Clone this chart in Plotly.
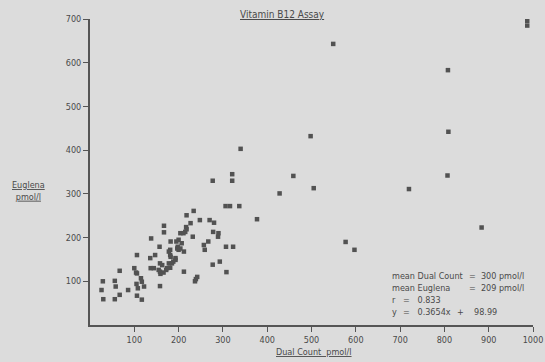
import plotly.graph_objects as go

# Dual Count (pmol/l) vs Euglena (pmol/l)
dual_count = [29, 26, 30, 56, 58, 56, 67, 67, 86, 100, 106, 106, 105, 108, 106, 117, 115, 117, 122,
              138, 136, 147, 137, 144, 157, 158, 158, 159, 158, 167, 167, 166, 172, 182, 181, 181,
              178, 181, 188, 193, 195, 198, 200, 204, 207, 204, 211, 215, 218, 218, 217, 212, 227,
              234, 232, 239, 242, 237, 248, 257, 259, 267, 270, 280, 278, 277, 290, 289, 293, 307,
              308, 306, 316, 337, 323, 377, 428, 277, 321, 321, 340, 459, 498, 505, 549, 577, 597,
              720, 808, 809, 807, 884, 987, 987,
              197, 212, 178, 182, 163, 174, 155, 200, 185, 193, 104]
euglena = [100, 80, 59, 101, 88, 59, 69, 124, 80, 130, 160, 118, 94, 84, 67, 58, 107, 99, 88,
           198, 153, 160, 130, 130, 179, 141, 122, 117, 89, 227, 212, 120, 126, 191, 172, 160,
           141, 131, 145, 153, 191, 179, 172, 175, 187, 210, 210, 213, 219, 251, 224, 122, 233,
           261, 202, 105, 110, 100, 240, 183, 172, 191, 240, 234, 213, 138, 210, 202, 145, 179,
           121, 272, 272, 272, 179, 242, 301, 330, 345, 330, 403, 341, 432, 313, 643, 190, 172,
           311, 583, 442, 342, 223, 696, 685,
           175, 168, 168, 156, 137, 130, 126, 195, 141, 149, 120]

x_ticks = [100, 200, 300, 400, 500, 600, 700, 800, 900, 1000]
y_ticks = [100, 200, 300, 400, 500, 600, 700]

title_text = "Vitamin B12 Assay"
x_title = "Dual Count  pmol/l"
stats_labels = ["mean Dual Count", "mean Euglena", "r", "y"]
stats_values = ["300 pmol/l", "209 pmol/l", "0.833", "0.3654x"]

FONT = "Liberation Sans Narrow, DejaVu Sans Condensed, Liberation Sans, sans-serif"
INK = "#4a4a4a"
BG = "#dcdcdc"

fig = go.Figure()
fig.add_trace(go.Scatter(
    x=dual_count, y=euglena, mode="markers",
    marker=dict(color="#525252", size=4.5, symbol="square", line=dict(width=0)),
    hoverinfo="x+y", showlegend=False,
))

ann = []
ann.append(dict(xref="paper", yref="paper", x=(282 - 90) / 443, y=(325 - 14) / 306,
                text="<u>" + title_text + "</u>", showarrow=False,
                font=dict(size=10, color=INK, family=FONT), xanchor="center", yanchor="middle"))
ann.append(dict(xref="paper", yref="paper", x=(314 - 90) / 443, y=(325 - 352) / 306,
                text="<u>" + x_title + "</u>", showarrow=False,
                font=dict(size=9, color=INK, family=FONT), xanchor="center", yanchor="middle"))
ann.append(dict(xref="paper", yref="paper", x=(28 - 90) / 443, y=(325 - 191) / 306,
                text="<u>Euglena</u><br><u>pmol/l</u>", showarrow=False,
                font=dict(size=9, color=INK, family=FONT), xanchor="center", yanchor="middle"))

rows_y = [113, 85, 57, 30]
sfont = dict(size=9, color=INK, family=FONT)
for lab, yy in zip(stats_labels, rows_y):
    ann.append(dict(x=678, y=yy, text=lab, showarrow=False, xanchor="left", font=sfont))
ann.append(dict(x=852, y=rows_y[0], text="=  " + stats_values[0], showarrow=False, xanchor="left", font=sfont))
ann.append(dict(x=852, y=rows_y[1], text="=  " + stats_values[1], showarrow=False, xanchor="left", font=sfont))
ann.append(dict(x=701, y=rows_y[2], text="=   " + stats_values[2], showarrow=False, xanchor="left", font=sfont))
ann.append(dict(x=701, y=rows_y[3], text="=   " + stats_values[3], showarrow=False, xanchor="left", font=sfont))
ann.append(dict(x=825, y=rows_y[3], text="+    98.99", showarrow=False, xanchor="left", font=sfont))

fig.update_layout(
    width=545, height=362,
    margin=dict(l=90, r=12, t=19, b=37, autoexpand=False),
    paper_bgcolor=BG, plot_bgcolor=BG,
    font=dict(family=FONT, color=INK, size=9),
    annotations=ann,
    xaxis=dict(range=[0, 1000], tickvals=x_ticks, showgrid=False, zeroline=False,
               showline=True, linecolor="#555555", linewidth=2, automargin=False,
               ticks="outside", ticklen=5, tickcolor="#555555", tickwidth=1,
               tickfont=dict(size=9, color=INK, family=FONT)),
    yaxis=dict(range=[0, 700], tickvals=y_ticks, showgrid=False, zeroline=False,
               showline=True, linecolor="#555555", linewidth=2, automargin=False,
               ticks="outside", ticklen=5, tickcolor="#555555", tickwidth=1,
               tickfont=dict(size=9, color=INK, family=FONT)),
)

fig.write_html(
    "out.html",
    config={"displayModeBar": False},
    post_script="document.body.style.margin='0';document.body.style.background='#dcdcdc';document.body.style.overflow='hidden';",
)
